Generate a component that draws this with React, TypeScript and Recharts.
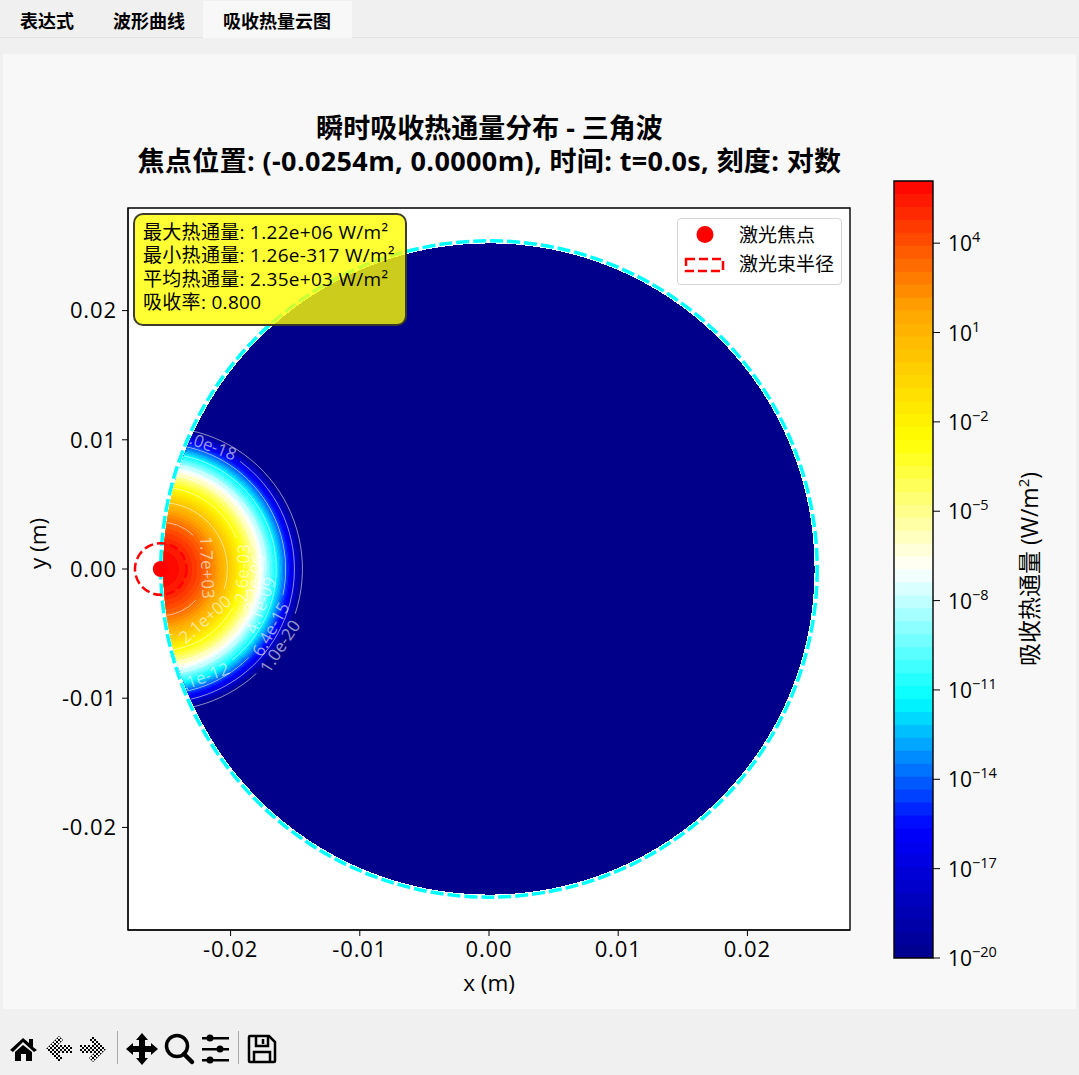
import {
  ScatterChart,
  Scatter,
  XAxis,
  YAxis,
  ZAxis,
  CartesianGrid,
  ReferenceArea,
  ComposedChart,
} from 'recharts';

const FONT = '"Open Sans", "Noto Sans CJK SC", sans-serif';

const axisTicks = [-0.02, -0.01, 0, 0.01, 0.02];
const axisLimit = 0.02794;
const focusX = -0.0254;
const focusY = 0;
const plateRadius = 0.0254;
const meshRadius = 0.0252;
const beamRadius = 0.002;

// log10 of the colour levels on the colour bar
const bandLevels = [
  -20, -19.565, -19.13, -18.696, -18.261, -17.826, -17.391, -16.957, -16.522, -16.087,
  -15.652, -15.217, -14.783, -14.348, -13.913, -13.478, -13.043, -12.609, -12.174, -11.739,
  -11.304, -10.87, -10.435, -10, -9.565, -9.13, -8.696, -8.261, -7.826, -7.391,
  -6.957, -6.522, -6.087, -5.652, -5.217, -4.783, -4.348, -3.913, -3.478, -3.043,
  -2.609, -2.174, -1.739, -1.304, -0.87, -0.435, 0, 0.435, 0.87, 1.304,
  1.739, 2.174, 2.609, 3.043, 3.478, 3.913, 4.348, 4.783, 5.217, 5.652, 6.087,
];

// outer radius of each colour band around the focus, in metres
const bandRadii = [
  0.01096, 0.010869, 0.010776, 0.010683, 0.010589, 0.010494, 0.010398, 0.010301, 0.010204, 0.010105,
  0.010006, 0.009905, 0.009803, 0.009701, 0.009597, 0.009492, 0.009386, 0.009279, 0.00917, 0.00906,
  0.008949, 0.008837, 0.008723, 0.008607, 0.00849, 0.008371, 0.008251, 0.008129, 0.008004, 0.007879,
  0.00775, 0.00762, 0.007488, 0.007353, 0.007215, 0.007075, 0.006932, 0.006786, 0.006637, 0.006484,
  0.006328, 0.006168, 0.006003, 0.005834, 0.00566, 0.00548, 0.005294, 0.005102, 0.004902, 0.004693,
  0.004475, 0.004245, 0.004002, 0.003744, 0.003466, 0.003164, 0.00283, 0.002451, 0.002001, 0.001415,
];

const contourLabels = ['1.0e-20', '8.0e-18', '6.4e-15', '5.1e-12', '4.1e-09', '3.2e-06', '2.6e-03', '2.1e+00', '1.7e+03'];
const contourRadii = [0.01096, 0.01034, 0.00966, 0.00894, 0.00816, 0.0073, 0.00632, 0.00515, 0.00363];
const contourLabelAngles = [-33, 69, -28.7, -69.7, -20, -8.7, -3, -48.6, 2];

const colorbarTicks = [-20, -17, -14, -11, -8, -5, -2, 1, 4];
const colormap = ['#00008b', '#0000ff', '#00ffff', '#ffffff', '#ffff00', '#ffa500', '#ff0000'];

const infoLines = [
  '最大热通量: 1.22e+06 W/m²',
  '最小热通量: 1.26e-317 W/m²',
  '平均热通量: 2.35e+03 W/m²',
  '吸收率: 0.800',
];

const tabs = ['表达式', '波形曲线', '吸收热量云图'];

function colorAt(t: number) {
  const pos = Math.min(Math.max(t, 0), 1) * (colormap.length - 1);
  const i = Math.min(Math.floor(pos), colormap.length - 2);
  const f = pos - i;
  const chan = (hex: string, k: number) => parseInt(hex.slice(1 + k * 2, 3 + k * 2), 16);
  const c = [0, 1, 2].map((k) =>
    Math.round(chan(colormap[i], k) + (chan(colormap[i + 1], k) - chan(colormap[i], k)) * f)
  );
  return `rgb(${c[0]},${c[1]},${c[2]})`;
}

const meshData = [{ x: 0, y: 0, r: meshRadius }];
const plateData = [{ x: 0, y: 0, r: plateRadius }];
const focusData = [{ x: focusX, y: focusY, r: 0 }];
const beamData = [{ x: focusX, y: focusY, r: beamRadius }];
const bandData = bandRadii.map((r, i) => ({ x: focusX, y: focusY, r, color: colorAt((i + 0.5) / bandRadii.length) }));
const contourData = contourRadii.map((r, i) => ({
  x: focusX,
  y: focusY,
  r,
  label: contourLabels[i],
  angle: contourLabelAngles[i],
}));

function MeshShape({ cx, cy, size }: any) {
  return (
    <g>
      <clipPath id="meshClip">
        <circle cx={cx} cy={cy} r={size} />
      </clipPath>
      <circle cx={cx} cy={cy} r={size} fill={colorAt(0)} shapeRendering="crispEdges" />
    </g>
  );
}

function BandShape({ cx, cy, size, payload }: any) {
  return (
    <g clipPath="url(#meshClip)">
      <circle cx={cx} cy={cy} r={size} fill={payload.color} shapeRendering="crispEdges" />
    </g>
  );
}

function ContourShape({ cx, cy, size, payload }: any) {
  const a = (payload.angle * Math.PI) / 180;
  const gap = 36 / size;
  const x1 = cx + size * Math.cos(a + gap);
  const y1 = cy - size * Math.sin(a + gap);
  const x2 = cx + size * Math.cos(a - gap);
  const y2 = cy - size * Math.sin(a - gap);
  const lx = cx + size * Math.cos(a);
  const ly = cy - size * Math.sin(a);
  let rot = 90 - payload.angle;
  if (rot > 90) rot -= 180;
  if (payload.angle < 0) rot = -90 - payload.angle;
  return (
    <g clipPath="url(#meshClip)">
      <path
        d={`M${x1} ${y1}A${size} ${size} 0 1 0 ${x2} ${y2}`}
        fill="none"
        stroke="rgba(255,255,255,0.55)"
        strokeWidth={1}
      />
      <text
        x={lx}
        y={ly}
        transform={`rotate(${rot} ${lx} ${ly})`}
        textAnchor="middle"
        dominantBaseline="central"
        fontSize={17}
        fontFamily={FONT}
        fill="rgba(255,255,255,0.6)"
      >
        {payload.label}
      </text>
    </g>
  );
}

function PlateRing({ cx, cy, size }: any) {
  return <circle cx={cx} cy={cy} r={size} fill="none" stroke="#00ffff" strokeWidth={3.5} strokeDasharray="13 4" />;
}

function BeamRing({ cx, cy, size }: any) {
  return <circle cx={cx} cy={cy} r={size} fill="none" stroke="#ff0000" strokeWidth={2.5} strokeDasharray="9 4" />;
}

function FocusDot({ cx, cy }: any) {
  return <circle cx={cx} cy={cy} r={8} fill="#ff0000" />;
}

function HeatChart() {
  const tickStyle = { fill: '#000', fontSize: 22, fontFamily: FONT, letterSpacing: 0.9 };
  return (
    <div style={{ position: 'absolute', left: 0, top: 0 }}>
      <ScatterChart width={880} height={1000} margin={{ top: 208, right: 30, bottom: 40, left: 68 }}>
        <CartesianGrid horizontal={false} vertical={false} fill="#ffffff" />
        <XAxis
          type="number"
          dataKey="x"
          domain={[-axisLimit, axisLimit]}
          ticks={axisTicks}
          allowDataOverflow
          height={30}
          tickSize={6}
          tickMargin={5}
          stroke="#000"
          tick={tickStyle}
          tickFormatter={(v: number) => v.toFixed(2)}
          label={{ value: 'x (m)', position: 'insideBottom', dy: 36, fontSize: 22.5, fontFamily: FONT, fill: '#000' }}
        />
        <YAxis
          type="number"
          dataKey="y"
          domain={[-axisLimit, axisLimit]}
          ticks={axisTicks}
          allowDataOverflow
          width={60}
          tickSize={6}
          tickMargin={5}
          stroke="#000"
          tick={tickStyle}
          tickFormatter={(v: number) => v.toFixed(2)}
          label={{ value: 'y (m)', angle: -90, position: 'insideLeft', dx: -35, fontSize: 22.5, fontFamily: FONT, fill: '#000' }}
        />
        <ZAxis type="number" dataKey="r" domain={[0, axisLimit * 2]} range={[0, 722]} />
        <Scatter data={meshData} shape={MeshShape} isAnimationActive={false} />
        <Scatter data={bandData} shape={BandShape} isAnimationActive={false} />
        <Scatter data={contourData} shape={ContourShape} isAnimationActive={false} />
        <Scatter data={plateData} shape={PlateRing} isAnimationActive={false} />
        <Scatter data={focusData} shape={FocusDot} isAnimationActive={false} />
        <Scatter data={beamData} shape={BeamRing} isAnimationActive={false} />
        <ReferenceArea
          x1={-axisLimit}
          x2={axisLimit}
          y1={-axisLimit}
          y2={axisLimit}
          fill="none"
          stroke="#000"
          strokeWidth={1.4}
          ifOverflow="visible"
        />
      </ScatterChart>
    </div>
  );
}

function ColorbarTick({ x, y, payload }: any) {
  return (
    <text x={x} y={y + 8} fontSize={21} fontFamily={FONT} fill="#000">
      <tspan>10</tspan>
      <tspan dy={-9} fontSize={14.5}>
        {payload.value < 0 ? `\u2212${Math.abs(payload.value)}` : payload.value}
      </tspan>
    </text>
  );
}

function Colorbar() {
  const top = bandLevels[bandLevels.length - 1];
  return (
    <div style={{ position: 'absolute', left: 880, top: 170 }}>
      <ComposedChart
        width={199}
        height={830}
        data={[{ x: 0 }, { x: 1 }]}
        margin={{ top: 11, right: 86, bottom: 42, left: 14 }}
      >
        <XAxis type="number" dataKey="x" domain={[0, 1]} hide />
        <YAxis
          type="number"
          orientation="right"
          domain={[bandLevels[0], top]}
          ticks={colorbarTicks}
          allowDataOverflow
          width={60}
          tickSize={7}
          tickMargin={8}
          axisLine={false}
          stroke="#000"
          tick={<ColorbarTick />}
        />
        {bandLevels.slice(0, -1).map((level, i) => (
          <ReferenceArea
            key={level}
            x1={0}
            x2={1}
            y1={level}
            y2={top}
            fill={colorAt((i + 0.5) / (bandLevels.length - 1))}
            stroke="none"
            fillOpacity={1}
          />
        ))}
        <ReferenceArea x1={0} x2={1} y1={bandLevels[0]} y2={top} fill="none" stroke="#000" strokeWidth={1.4} ifOverflow="visible" />
      </ComposedChart>
      <div
        style={{
          position: 'absolute',
          left: 148,
          top: 399,
          transform: 'translate(-50%, -50%) rotate(-90deg)',
          whiteSpace: 'nowrap',
          fontSize: 23,
          color: '#000',
        }}
      >
        吸收热通量 (W/m<sup style={{ fontSize: 15, lineHeight: 0 }}>2</sup>)
      </div>
    </div>
  );
}

function InfoBox() {
  return (
    <div
      style={{
        position: 'absolute',
        left: 132.5,
        top: 212.5,
        width: 270,
        height: 109,
        boxSizing: 'content-box',
        background: 'rgba(255,255,0,0.8)',
        border: '2px solid rgba(40,40,40,0.9)',
        borderRadius: 10,
        fontSize: 19,
        lineHeight: '23.5px',
        letterSpacing: 0.3,
        color: '#000',
        whiteSpace: 'nowrap',
      }}
    >
      <div style={{ paddingLeft: 8.5, paddingTop: 6 }}>
        {infoLines.map((l) => (
          <div key={l}>{l}</div>
        ))}
      </div>
    </div>
  );
}

function LegendBox() {
  return (
    <div
      style={{
        position: 'absolute',
        left: 677,
        top: 218,
        width: 163,
        height: 65,
        background: 'rgba(255,255,255,0.8)',
        border: '1.5px solid #d5d5d5',
        borderRadius: 4,
        fontSize: 19,
        color: '#000',
      }}
    >
      <svg width={60} height={65} style={{ position: 'absolute', left: 0, top: 0 }}>
        <circle cx={27} cy={15.5} r={8.5} fill="#ff0000" />
        <rect x={8} y={40} width={37} height={12} fill="none" stroke="#ff0000" strokeWidth={2.5} strokeDasharray="9 4" />
      </svg>
      <div style={{ position: 'absolute', left: 61, top: 2, lineHeight: '28px', whiteSpace: 'nowrap' }}>激光焦点</div>
      <div style={{ position: 'absolute', left: 61, top: 31, lineHeight: '28px', whiteSpace: 'nowrap' }}>激光束半径</div>
    </div>
  );
}

function TabBar() {
  const lefts = [20, 113, 223];
  return (
    <div style={{ position: 'absolute', left: 0, top: 0, width: 1079, height: 37, borderBottom: '1px solid #e2e2e2', background: '#f0f0f0' }}>
      <div style={{ position: 'absolute', left: 203, top: 1, width: 149, height: 37, background: '#f8f8f8' }} />
      {tabs.map((t, i) => (
        <div
          key={t}
          style={{ position: 'absolute', left: lefts[i], top: 10, fontSize: 18, lineHeight: '22px', fontWeight: 700, color: '#000', whiteSpace: 'nowrap' }}
        >
          {t}
        </div>
      ))}
    </div>
  );
}

function Toolbar() {
  return (
    <svg width={1079} height={66} style={{ position: 'absolute', left: 0, top: 1009 }}>
      <defs>
        <pattern id="dither" width={4} height={4} patternUnits="userSpaceOnUse">
          <rect width={2} height={2} fill="#000" />
          <rect x={2} y={2} width={2} height={2} fill="#000" />
        </pattern>
      </defs>
      <path d="M10 41 L23 29 L29 34 L29 30 L33 30 L33 38 L37 41 L34 43 L23 33 L13 43 Z M15 43 L23 36 L32 43 L32 52 L26 52 L26 45 L21 45 L21 52 L15 52 Z" fill="#000" />
      <path d="M46 40 L59 27 L63 31 L58 36 L72 36 L72 44 L58 44 L63 49 L59 53 Z" fill="url(#dither)" />
      <path d="M106 40 L93 27 L89 31 L94 36 L80 36 L80 44 L94 44 L89 49 L93 53 Z" fill="url(#dither)" />
      <rect x={117} y={22} width={1} height={33} fill="#aaa" />
      <path d="M142 24 L148 31 L145 31 L145 37 L151 37 L151 34 L158 40 L151 46 L151 43 L145 43 L145 49 L148 49 L142 56 L136 49 L139 49 L139 43 L133 43 L133 46 L126 40 L133 34 L133 37 L139 37 L139 31 L136 31 Z" fill="#000" />
      <circle cx={177} cy={37} r={10.5} fill="none" stroke="#000" strokeWidth={3.5} />
      <path d="M184 45 L192 53" stroke="#000" strokeWidth={4.5} strokeLinecap="round" />
      {[29, 40, 51].map((y, i) => (
        <g key={y}>
          <rect x={202} y={y - 1} width={27} height={2.5} fill="#000" />
          <circle cx={[210, 220, 210][i]} cy={y} r={3.5} fill="#000" />
        </g>
      ))}
      <rect x={238} y={22} width={1} height={33} fill="#aaa" />
      <path d="M250 27 H269 L275 33 V52 Q275 53 274 53 H250 Q249 53 249 52 V28 Q249 27 250 27 Z" fill="none" stroke="#000" strokeWidth={2.5} />
      <path d="M256 28 V37 H268 V28 M254 53 V43 H270 V53 M263 30 V35" fill="none" stroke="#000" strokeWidth={2.5} />
    </svg>
  );
}

export default function App() {
  return (
    <div style={{ position: 'absolute', left: 0, top: 0, width: 1079, height: 1075, overflow: 'hidden', background: '#f0f0f0', fontFamily: FONT }}>
      <TabBar />
      <div style={{ position: 'absolute', left: 3, top: 54, width: 1073, height: 955, background: '#f8f8f8' }} />
      <div
        style={{ position: 'absolute', left: 0, width: 979, top: 111, textAlign: 'center', fontSize: 27, fontWeight: 700, lineHeight: '33px', color: '#000', whiteSpace: 'nowrap' }}
      >
        <div>瞬时吸收热通量分布 - 三角波</div>
        <div style={{ letterSpacing: 0.37 }}>焦点位置: (-0.0254m, 0.0000m), 时间: t=0.0s, 刻度: 对数</div>
      </div>
      <HeatChart />
      <Colorbar />
      <InfoBox />
      <LegendBox />
      <Toolbar />
    </div>
  );
}
